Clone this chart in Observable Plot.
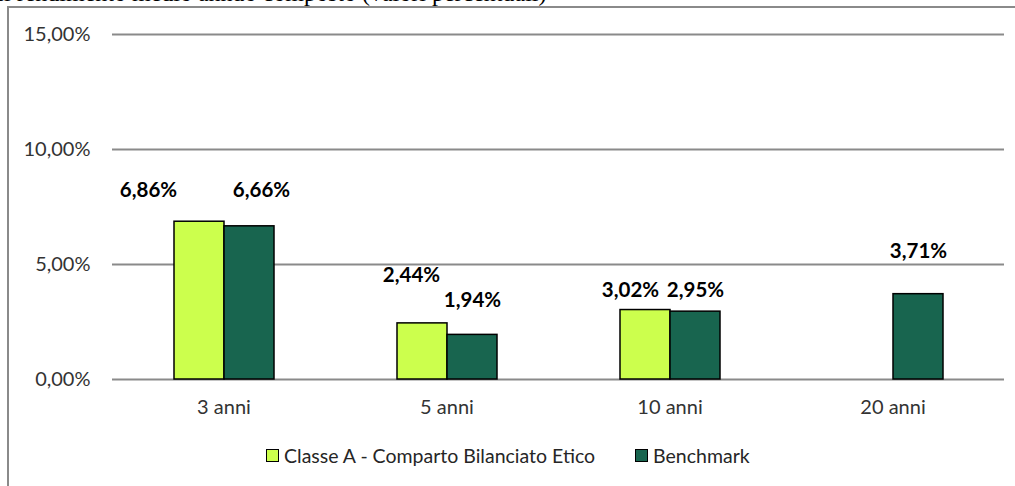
<!DOCTYPE html>
<html>
<head>
<meta charset="utf-8">
<script src="https://cdn.jsdelivr.net/npm/d3@7"></script>
<script src="https://cdn.jsdelivr.net/npm/@observablehq/plot@0.6"></script>
<style>
  html, body { margin: 0; padding: 0; background: #fff; }
  #wrap { position: relative; width: 1015px; height: 486px; overflow: hidden; font-family: Lato, "Open Sans", sans-serif; }
  #title { position: absolute; left: -4px; top: -20px; font-family: "Liberation Serif", "DejaVu Serif", serif; font-size: 24px; color: #000; white-space: nowrap; }
  #frame { position: absolute; left: 7px; top: 6px; width: 1100px; height: 600px; border-left: 2px solid #8a8a8a; border-top: 2px solid #8a8a8a; background: transparent; }
  #chart { position: absolute; left: 0; top: 0; }
  #legend { position: absolute; top: 444px; left: 266px; display: flex; align-items: center; font-size: 19.5px; color: #262626; }
  .sw { width: 11px; height: 11px; border: 1.5px solid #000; display: inline-block; margin-right: 5px; }
  .item { display: flex; align-items: center; margin-right: 40px; }
</style>
</head>
<body>
<div id="wrap">
  <div id="title">Il rendimento medio annuo composto (valori percentuali)</div>
  <div id="frame"></div>
  <div id="chart"></div>
  <div id="legend"></div>
</div>
<script>
const periods = ["3 anni", "5 anni", "10 anni", "20 anni"];
const seriesNames = ["Classe A - Comparto Bilanciato Etico", "Benchmark"];
const classeA = [6.86, 2.44, 3.02, null];
const benchmark = [6.66, 1.94, 2.95, 3.71];
const yTicks = [0, 5, 10, 15];
const colors = ["#ccff4d", "#18654f"];
// manual label nudges (pixels) as placed in the original chart
const labelNudgeA = [[-51, -31], [-11, -48], [-15, -20], [0, 0]];
const labelNudgeB = [[12, -36], [0, -34], [0, -21], [0, -43]];

const fmt = v => v.toFixed(2).replace(".", ",") + "%";

const rows = [];
periods.forEach((p, i) => {
  if (classeA[i] != null) rows.push({period: p, series: seriesNames[0], value: classeA[i], nudge: labelNudgeA[i]});
  if (benchmark[i] != null) rows.push({period: p, series: seriesNames[1], value: benchmark[i], nudge: labelNudgeB[i]});
});

const labelMarks = rows.map(r => Plot.text([r], {
  fx: "period", x: "series", y: "value", text: d => fmt(d.value),
  dx: r.nudge[0], dy: r.nudge[1],
  fontWeight: "bold", fontSize: 20.5, fill: "#000"
}));

const chart = Plot.plot({
  width: 1015,
  height: 440,
  marginLeft: 112,
  marginRight: 11,
  marginTop: 34,
  marginBottom: 61,
  style: {fontFamily: "Lato, 'Open Sans', sans-serif", background: "transparent"},
  fx: {domain: periods, padding: 0, label: null, axis: "bottom", tickSize: 0, tickPadding: 20},
  x: {domain: seriesNames, paddingInner: 0, paddingOuter: 1.23, axis: null},
  y: {domain: [0, 15], ticks: yTicks, tickFormat: fmt, tickSize: 0, tickPadding: 22, label: null},
  color: {domain: seriesNames, range: colors},
  marks: [
    Plot.ruleY(yTicks, {stroke: "#8a8a8a", strokeWidth: 2}),
    Plot.barY(rows, {fx: "period", x: "series", y: "value", fill: "series", stroke: "#000", strokeWidth: 1.5}),
    ...labelMarks
  ]
});
d3.select(chart).selectAll("g[aria-label='y-axis tick label'], g[aria-label='fx-axis tick label']")
  .attr("font-size", 20).attr("fill", "#333333");
document.getElementById("chart").appendChild(chart);

const legend = document.getElementById("legend");
seriesNames.forEach((s, i) => {
  const item = document.createElement("div");
  item.className = "item";
  const sw = document.createElement("span");
  sw.className = "sw";
  sw.style.background = colors[i];
  item.appendChild(sw);
  item.appendChild(document.createTextNode(s));
  legend.appendChild(item);
});
</script>
</body>
</html>
